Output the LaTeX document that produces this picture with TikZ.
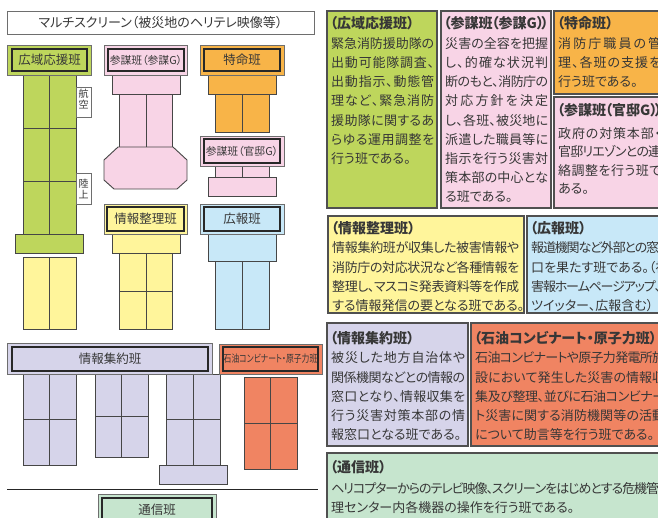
\documentclass[tikz,border=0pt]{standalone}
\usepackage{fontspec}
\setmainfont{Noto Sans CJK JP}[RawFeature=+palt]
\newfontfamily\jpnarrow{Noto Sans CJK JP}[RawFeature=+palt,FakeStretch=0.76]
\usetikzlibrary{calc}
\definecolor{cgreen}{RGB}{190,214,92}
\definecolor{cpink}{RGB}{248,212,230}
\definecolor{corange}{RGB}{248,180,72}
\definecolor{cyellow}{RGB}{255,245,155}
\definecolor{cblue}{RGB}{200,232,248}
\definecolor{clav}{RGB}{214,212,234}
\definecolor{csalmon}{RGB}{240,132,98}
\definecolor{cmint}{RGB}{198,229,206}
\definecolor{cellc}{RGB}{70,70,70}
\definecolor{outc}{RGB}{110,110,110}
\definecolor{innc}{RGB}{40,40,40}
\definecolor{panc}{RGB}{80,80,80}
\definecolor{txtc}{RGB}{55,55,55}
% justified line: glue (stretch and slight shrink) between every character
\newcommand\jl[2][\linewidth]{\makebox[#1][s]{\jlfirst#2\jlend}}
\def\jlend{\relax}
\def\jlfirst#1{#1\jlrest}
\def\jlrest#1{\ifx\jlend#1\else\hskip 0pt plus 1fil minus 1.2pt#1\expandafter\jlrest\fi}
\tikzset{
  cellline/.style={draw=cellc, line width=0.9pt},
  outerline/.style={draw=outc, line width=0.9pt},
  innerline/.style={draw=innc, line width=1.4pt},
  lab/.style={inner sep=0pt, text=txtc, font=\fontsize{12.5}{14}\selectfont},
  panel/.style={draw=panc, line width=1.1pt},
  ttl/.style={inner sep=0pt, anchor=base west, text=txtc, font=\fontsize{14}{17}\selectfont\bfseries},
  bodytext/.style={inner sep=0pt, anchor=base west, text=txtc, align=left},
}
\newcommand\mkhead[8]{%
  \filldraw[fill=#2, outerline] #3 rectangle #4;
  \filldraw[fill=#2, innerline] #5 rectangle #6;
  \node[lab, #8] (#1) at ($#5!0.5!#6$) {#7};}
\newcommand\mkcol[7]{%
  \filldraw[fill=#1, cellline] (#2,#5) rectangle (#4,#6);
  \draw[cellline] (#3,#5) -- (#3,#6);
  \foreach \hy in {#7} {\draw[cellline] (#2,\hy) -- (#4,\hy);}}
\begin{document}
\begin{tikzpicture}[x=1pt,y=-1pt]
\useasboundingbox (0,0) rectangle (658,517);
\clip (0,0) rectangle (658,517);
\fill[white] (0,0) rectangle (658,517);

% ---------- left layout ----------
\draw[outerline, fill=white] (7,11) rectangle (314,34);
\node[lab, font=\fontsize{13}{15}\selectfont] (screen) at (160.5,22.5) {マルチスクリーン（被災地のヘリテレ映像等）};

% green group
\mkcol{cgreen}{23}{49}{76}{75}{234}{128,181}
\filldraw[fill=cgreen, cellline] (15,234) rectangle (83,253);
\mkcol{cyellow}{23}{49}{76}{257}{329}{257}
\mkhead{hkoiki}{cgreen}{(7,45)}{(91,75)}{(12,49)}{(87,71)}{広域応援班}{}
\draw[outerline, fill=white] (76,87) rectangle (91,117);
\node[lab, align=center, font=\fontsize{10}{10.5}\selectfont] (koku) at (83.5,99) {航\\空};
\draw[outerline, fill=white] (76,173) rectangle (91,204);
\node[lab, align=center, font=\fontsize{10}{10.5}\selectfont] (rikujo) at (83.5,189) {陸\\上};

% pink (sanbo G)
\filldraw[fill=cpink, cellline] (112,75) rectangle (180,94);
\mkcol{cpink}{119}{146}{172}{94}{147}{94}
\filldraw[fill=cpink, cellline] (118,147) -- (173,147) -- (187,160) -- (187,180) -- (177,189)
  -- (114,189) -- (104,180) -- (104,160) -- cycle;
\mkhead{hsanbo}{cpink}{(104,45)}{(187,75)}{(108,49)}{(184,71)}{参謀班（参謀G）}{font=\fontsize{10.8}{12}\selectfont}

% orange (tokumei)
\filldraw[fill=corange, cellline] (208,75) rectangle (276,94);
\mkcol{corange}{215}{242}{269}{94}{132}{94}
\mkhead{htoku}{corange}{(200,45)}{(284,75)}{(204,49)}{(280,71)}{特命班}{}
\mkcol{cpink}{215}{242}{269}{166}{177}{166}
\filldraw[fill=cpink, cellline] (208,177) rectangle (276,196);
\mkhead{hkantei}{cpink}{(200,136)}{(284,166)}{(204,139)}{(280,163)}{参謀班（官邸G）}{font=\fontsize{10.8}{12}\selectfont}

% yellow (joho seiri)
\filldraw[fill=cyellow, cellline] (112,234) rectangle (180,253);
\mkcol{cyellow}{119}{146}{172}{253}{329}{291}
\mkhead{hseiri}{cyellow}{(104,204)}{(187,234)}{(107,207)}{(184,231)}{情報整理班}{}

% blue (koho)
\filldraw[fill=cblue, cellline] (208,234) rectangle (276,261);
\mkcol{cblue}{215}{242}{269}{261}{329}{261}
\mkhead{hkoho}{cblue}{(200,204)}{(284,234)}{(204,207)}{(280,231)}{広報班}{}

% lavender (joho shuyaku)
\mkcol{clav}{23}{49}{76}{374}{465}{419}
\mkcol{clav}{95}{121}{148}{374}{457}{416}
\mkcol{clav}{166}{193}{220}{374}{465}{419}
\filldraw[fill=clav, cellline] (159,465) rectangle (227,484);
\mkhead{hshuyaku}{clav}{(7,343)}{(212,374)}{(12,347)}{(208,371)}{情報集約班}{}

% salmon (sekiyu)
\mkcol{csalmon}{244}{270}{297}{377}{469}{423}
\mkhead{hsekiyu}{csalmon}{(219,344)}{(322,374)}{(223,347)}{(318,371)}{石油コンビナート・原子力班}{font=\jpnarrow\fontsize{10.3}{12}\selectfont}

\draw[draw=black!85, line width=0.9pt] (7,489) -- (318,489);
\mkhead{htsushin}{cmint}{(98,494)}{(216,526)}{(102,498)}{(212,521)}{通信班}{}

% ---------- right descriptions ----------
\filldraw[fill=cgreen, panel] (327,11) rectangle (437,208);
\filldraw[fill=cpink, panel] (441,11) rectangle (551,208);
\filldraw[fill=corange, panel] (554,11) rectangle (664,94);
\filldraw[fill=cpink, panel] (554,97) rectangle (664,208);
\filldraw[fill=cyellow, panel] (328,216) rectangle (524,313);
\filldraw[fill=cblue, panel] (527,216) rectangle (663,313);
\filldraw[fill=clav, panel] (327,323) rectangle (468,446);
\filldraw[fill=csalmon, panel] (471,323) rectangle (667,446);
\filldraw[fill=cmint, panel] (327,453) rectangle (700,530);

\node[ttl] (tA) at (330,28.4) {（広域応援班）};
\node[bodytext, text width=103pt, font=\fontsize{13}{19.2}\selectfont] (bA) at (331,48.2)
 {\jl{緊急消防援助隊の}\\\jl{出動可能隊調査、}\\\jl{出動指示、動態管}\\\jl{理など、緊急消防}\\\jl{援助隊に関するあ}\\\jl{らゆる運用調整を}\\行う班である。};

\node[ttl] (tB) at (443.5,28.4) {（参謀班\kern-1pt（参謀G）\kern-2.5pt）};
\node[bodytext, text width=103pt, font=\fontsize{13}{19.2}\selectfont] (bB) at (445,48.2)
 {\jl{災害の全容を把握}\\\jl{し、的確な状況判}\\\jl{断のもと、消防庁の}\\\jl{対応方針を決定}\\\jl{し、各班、被災地に}\\\jl{派遣した職員等に}\\\jl{指示を行う災害対}\\\jl{策本部の中心とな}\\る班である。};

\node[ttl] (tC) at (557,28.4) {（特命班）};
\node[bodytext, text width=103pt, font=\fontsize{13}{19.2}\selectfont] (bC) at (558,48.2)
 {\jl{消防庁職員の管}\\\jl{理、各班の支援を}\\行う班である。};

\node[ttl] (tD) at (557,115.7) {（参謀班\kern-1pt（官邸G）\kern-2.5pt）};
\node[bodytext, text width=103pt, font=\fontsize{13}{18.4}\selectfont] (bD) at (558,138.2)
 {\jl{政府の対策本部・}\\\jl{官邸リエゾンとの連}\\\jl{絡調整を行う班で}\\ある。};

\node[ttl] (tE) at (331,233.7) {（情報整理班）};
\node[bodytext, text width=187pt, font=\fontsize{13}{19.3}\selectfont] (bE) at (332,252.9)
 {\jl{情報集約班が収集した被害情報や}\\\jl{消防庁の対応状況など各種情報を}\\\jl{整理し、マスコミ発表資料等を作成}\\する情報発信の要となる班である。};

\node[ttl] (tF) at (530,233.7) {（広報班）};
\node[bodytext, text width=128pt, font=\fontsize{13}{19.3}\selectfont] (bF) at (531,252.9)
 {\jl{報道機関など外部との窓}\\口を果たす班である。（被\\\jl{害報ホームページアップ、}\\ツイッター、広報含む）};

\node[ttl] (tG) at (330,343.4) {（情報集約班）};
\node[bodytext, text width=134pt, font=\fontsize{13}{19.2}\selectfont] (bG) at (331,362.9)
 {\jl{被災した地方自治体や}\\\jl{関係機関などとの情報の}\\\jl{窓口となり、情報収集を}\\\jl{行う災害対策本部の情}\\報窓口となる班である。};

\node[ttl] (tH) at (474,343.4) {（石油コンビナート・原子力班）};
\node[bodytext, text width=190pt, font=\fontsize{13}{19.2}\selectfont] (bH) at (475,362.9)
 {\jl{石油コンビナートや原子力発電所施}\\\jl{設において発生した災害の情報収}\\\jl{集及び整理、並びに石油コンビナー}\\\jl{ト災害に関する消防機関等の活動}\\について助言等を行う班である。};

\node[ttl] (tI) at (330,472.4) {（通信班）};
\node[bodytext, text width=400pt, font=\fontsize{13}{19.4}\selectfont] (bI) at (331,493.2)
 {\jl[328pt]{ヘリコプターからのテレビ映像、スクリーンをはじめとする危機管}\\理センター内各機器の操作を行う班である。};
\end{tikzpicture}
\end{document}
